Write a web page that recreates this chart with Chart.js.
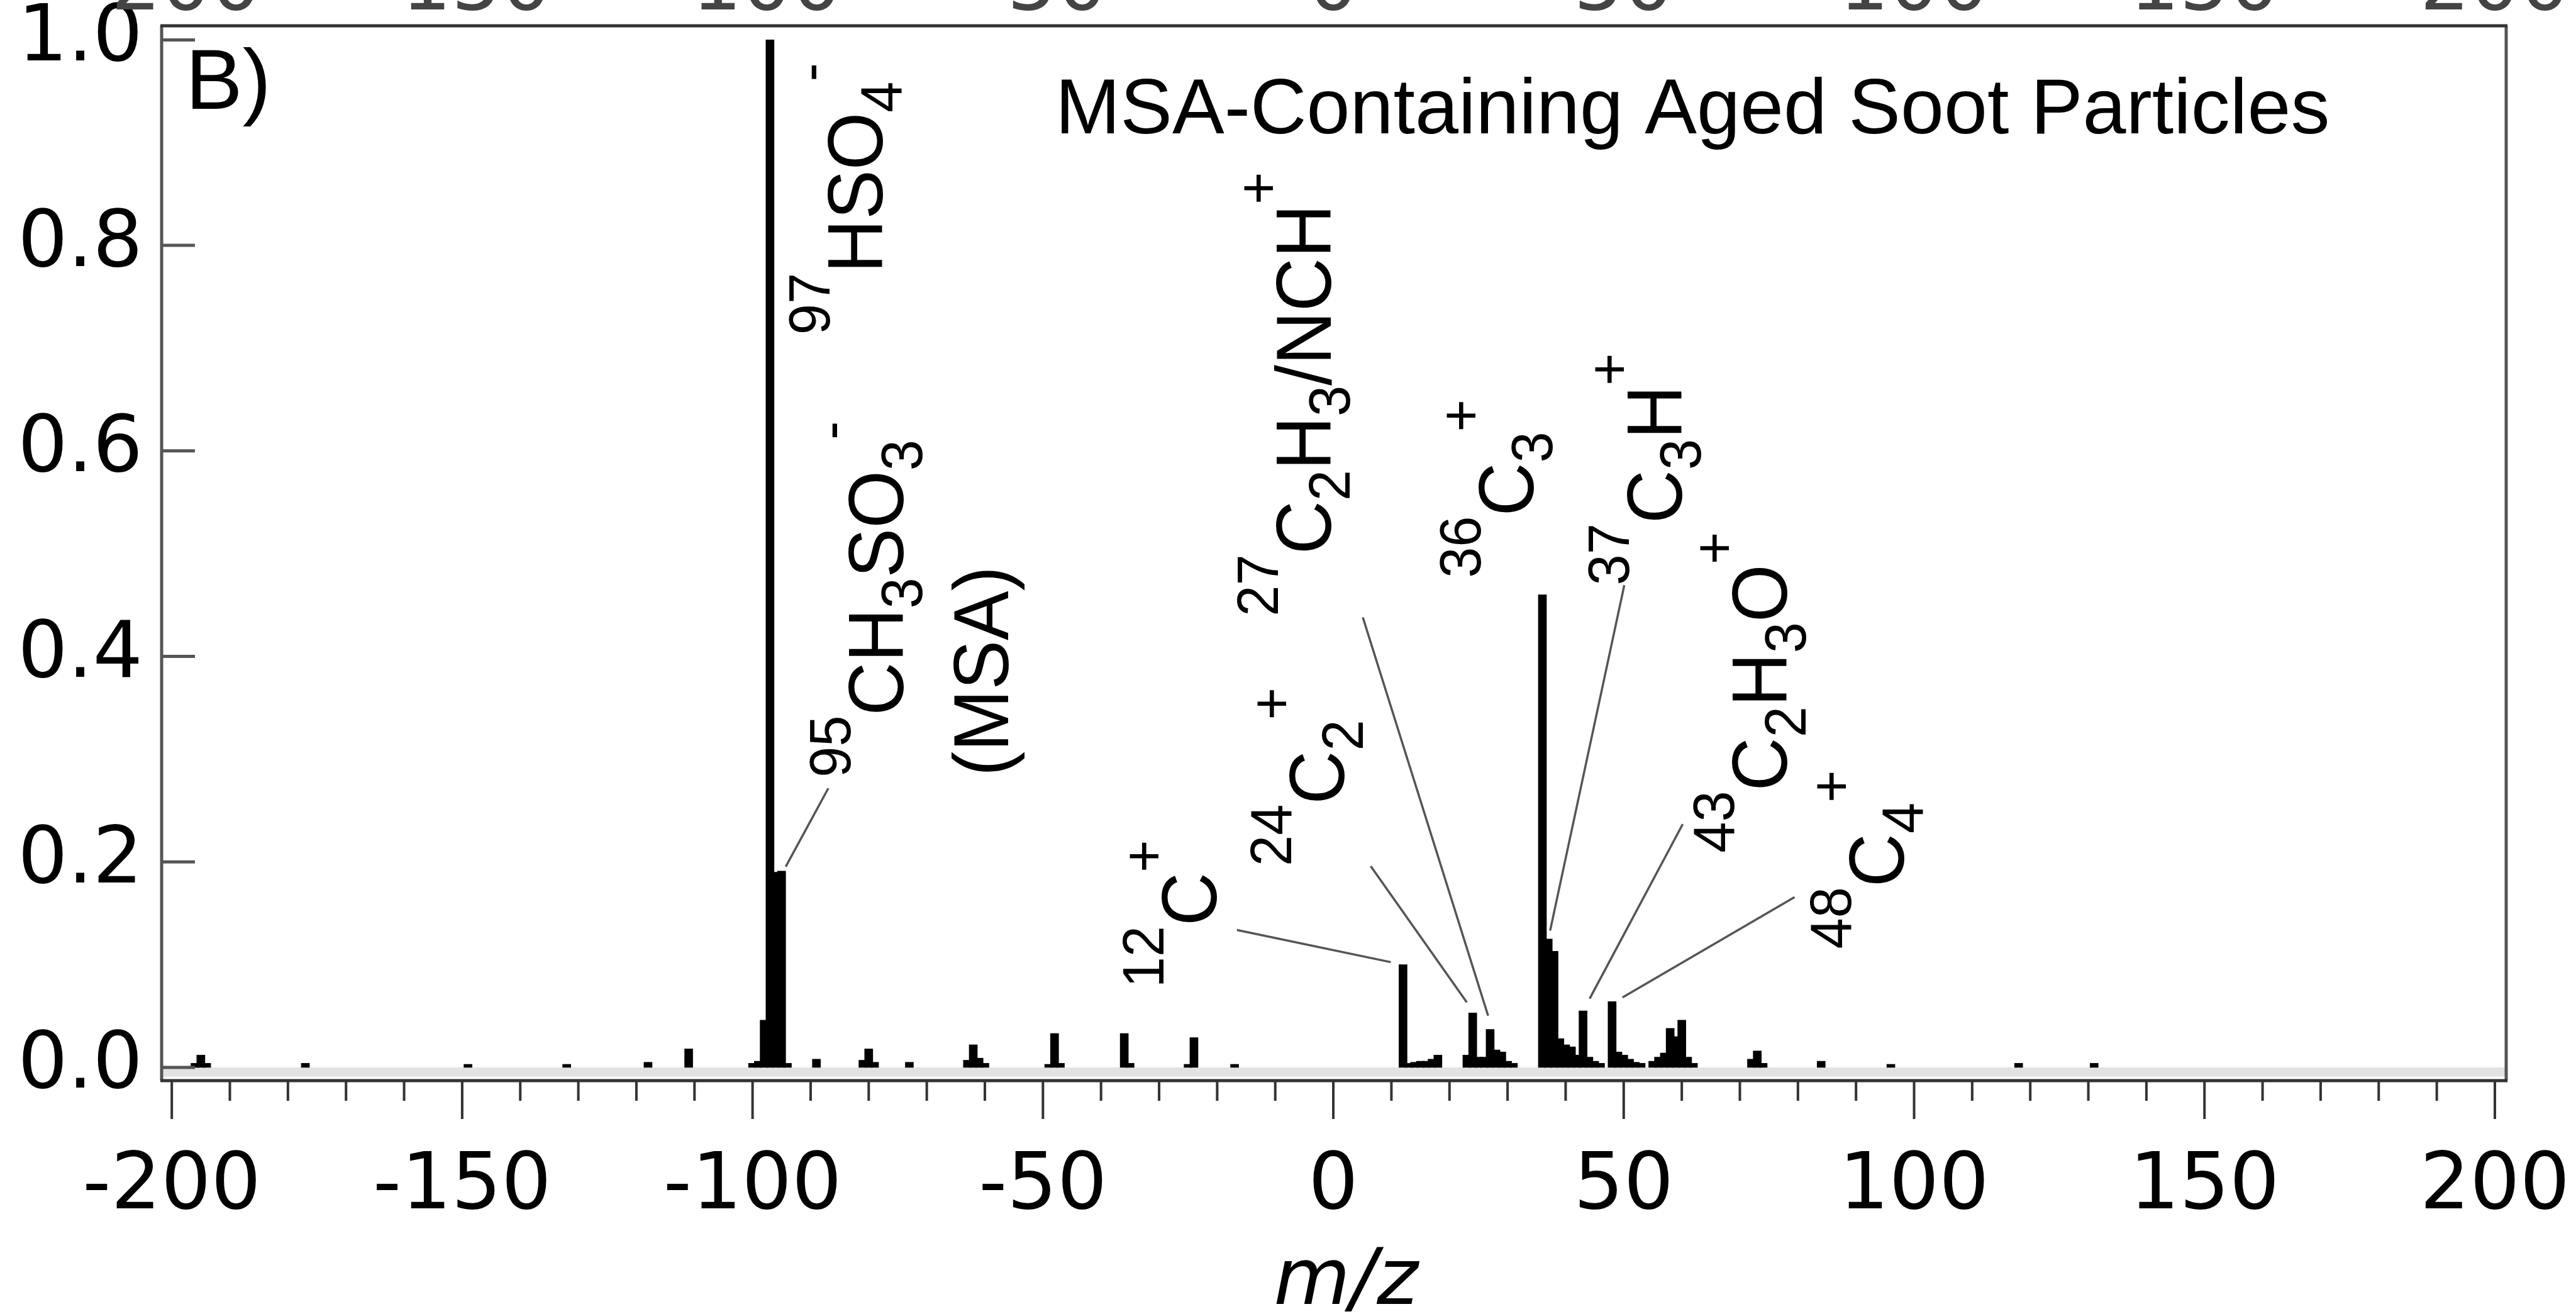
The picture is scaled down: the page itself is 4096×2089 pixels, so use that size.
<!DOCTYPE html>
<html>
<head>
<meta charset="utf-8">
<title>MSA-Containing Aged Soot Particles</title>
<script src="https://cdn.jsdelivr.net/npm/chart.js@4.4.1/dist/chart.umd.min.js"></script>
<style>
  html, body { margin: 0; padding: 0; background: #fff; }
  #wrap { width: 4096px; height: 2089px; }
</style>
</head>
<body>
<div id="wrap"><canvas id="spectrum" width="4096" height="2089"></canvas></div>
<script>
// ================================================
// Spectrum data (m/z, relative intensity)
// ================================================
const mz = [
    -196, -195, -194, -177, -149, -132, -118, -111,
    -100, -99, -98, -97, -96, -95, -94,
    -89, -81, -80, -79, -73, -63, -62, -61, -60,
    -49, -48, -47, -36, -35, -25, -24, -17,
    12, 13, 14, 15, 16, 17, 18,
    23, 24, 25, 26, 27, 28, 29, 30, 31,
    36, 37, 38, 39, 40, 41, 42, 43, 44, 45, 46,
    48, 49, 50, 51, 52, 53, 55, 56, 57, 58, 59, 60, 61, 62,
    72, 73, 74, 84, 96, 118, 131
];
const intensity = [
    0.004, 0.012, 0.004, 0.004, 0.003, 0.003, 0.005, 0.018,
    0.004, 0.006, 0.046, 1.0, 0.19, 0.191, 0.004,
    0.008, 0.007, 0.018, 0.005, 0.005, 0.007, 0.022, 0.009, 0.004,
    0.003, 0.033, 0.004, 0.033, 0.004, 0.003, 0.029, 0.003,
    0.100, 0.004, 0.005, 0.006, 0.006, 0.008, 0.012,
    0.012, 0.053, 0.010, 0.010, 0.037, 0.017, 0.015, 0.006, 0.004,
    0.460, 0.125, 0.113, 0.028, 0.022, 0.020, 0.012, 0.055, 0.010, 0.006, 0.004,
    0.064, 0.015, 0.012, 0.008, 0.005, 0.004, 0.006, 0.010, 0.014, 0.038, 0.030, 0.046, 0.010, 0.004,
    0.008, 0.016, 0.004, 0.006, 0.003, 0.004, 0.004
];

// Axes
const xMin = -201.75, xMax = 201.95;
const yMin = -0.0129, yMax = 1.0137;
const xMajor = [-200, -150, -100, -50, 0, 50, 100, 150, 200];
const xMinorStep = 10;
const yMajor = [0, 0.2, 0.4, 0.6, 0.8, 1.0];
const yTickLabels = ['0.0', '0.2', '0.4', '0.6', '0.8', '1.0'];
const baselineDepth = -0.009; // grey noise band just under zero

// Peak labels: "^" = superscript, "_" = subscript, anchored at (m/z, intensity)
const peakLabels = [
    '^97|HSO|_4|^-',
    '^95|CH|_3|SO|_3|^-',
    '(MSA)',
    '^12|C|^+',
    '^24|C|_2|^+',
    '^27|C|_2|H|_3|/NCH|^+',
    '^36|C|_3|^+',
    '^37|C|_3|H|^+',
    '^43|C|_2|H|_3|O|^+',
    '^48|C|_4|^+'
];
const labelMz = [-77.64, -74.08, -55.97, -20.16, 1.83, -0.47, 34.4, 59.95, 78.06, 98.17];
const labelY  = [0.7130, 0.2822, 0.2834, 0.0775, 0.1959, 0.4391, 0.4763, 0.4692, 0.2089, 0.1154];

// Leader lines from label to peak
const leaderFromMz = [-86.96, -16.6, 6.44, 5.08, 50.1, 60.16, 79.42];
const leaderFromY  = [0.2716, 0.1337, 0.1959, 0.4379, 0.4692, 0.2367, 0.1657];
const leaderToMz   = [-94.29, 9.89, 22.98, 26.65, 37.33, 44.14, 49.79];
const leaderToY    = [0.1953, 0.1024, 0.0633, 0.0503, 0.1331, 0.0669, 0.068];

const titleText = 'MSA-Containing Aged Soot Particles';
const panelText = 'B)';
const xTitle = 'm/z';

// ================================================
// Drawing helpers
// ================================================
const MAIN = 124, SMALL = 93, SUP = 84, SUB = 30, SQUEEZE = 0.95;
const SANS = '"Liberation Sans", Arial, sans-serif';
const TICKFONT = '"DejaVu Sans", Verdana, sans-serif';

// rotated (reading upwards) chemical label
function drawFormula(ctx, spec, x, y) {
    ctx.save();
    ctx.translate(x, y);
    ctx.rotate(-Math.PI / 2);
    ctx.scale(SQUEEZE, 1);
    ctx.textAlign = 'left';
    ctx.textBaseline = 'alphabetic';
    ctx.fillStyle = '#000';
    let pos = 0;
    spec.split('|').forEach(part => {
        let txt = part, size = MAIN, dy = 0;
        if (part[0] === '^') { txt = part.slice(1); size = SMALL; dy = -SUP; }
        else if (part[0] === '_') { txt = part.slice(1); size = SMALL; dy = SUB; }
        ctx.font = size + 'px ' + SANS;
        ctx.fillText(txt, pos, dy);
        pos += ctx.measureText(txt).width;
    });
    ctx.restore();
}

// keep the plot box where the reference has it
function noAutoPad(s) {
    s.paddingLeft = 0; s.paddingRight = 0;
    s.paddingTop = 0; s.paddingBottom = 0;
}

const notesPlugin = {
    id: 'notes',
    afterDatasetsDraw(chart) {
        const ctx = chart.ctx;
        const area = chart.chartArea;
        const xs = chart.scales.x, ys = chart.scales.y;

        ctx.save();

        // frame
        ctx.lineCap = 'butt';
        ctx.strokeStyle = '#555';
        ctx.lineWidth = 5;
        ctx.beginPath();
        ctx.moveTo(area.left, area.top); ctx.lineTo(area.left, area.bottom);
        ctx.moveTo(area.right, area.top); ctx.lineTo(area.right, area.bottom);
        ctx.stroke();
        ctx.strokeStyle = '#333';
        ctx.beginPath();
        ctx.moveTo(area.left - 2, area.top); ctx.lineTo(area.right + 2, area.top);
        ctx.moveTo(area.left - 2, area.bottom); ctx.lineTo(area.right + 2, area.bottom);
        ctx.stroke();

        // y ticks, inward
        ctx.strokeStyle = '#555';
        ctx.lineWidth = 5;
        ctx.beginPath();
        yMajor.forEach(v => {
            const py = ys.getPixelForValue(v);
            ctx.moveTo(area.left, py);
            ctx.lineTo(area.left + 53, py);
        });
        ctx.stroke();

        // x ticks, outward (major every 50, minor every 10)
        ctx.strokeStyle = '#333';
        ctx.lineWidth = 4;
        ctx.beginPath();
        for (let v = xMajor[0]; v <= xMajor[xMajor.length - 1]; v += xMinorStep) {
            const px = xs.getPixelForValue(v);
            const len = xMajor.includes(v) ? 61 : 32;
            ctx.moveTo(px, area.bottom);
            ctx.lineTo(px, area.bottom + len);
        }
        ctx.stroke();

        // leader lines
        ctx.strokeStyle = '#555';
        ctx.lineWidth = 3.5;
        ctx.beginPath();
        leaderFromMz.forEach((m, i) => {
            ctx.moveTo(xs.getPixelForValue(m), ys.getPixelForValue(leaderFromY[i]));
            ctx.lineTo(xs.getPixelForValue(leaderToMz[i]), ys.getPixelForValue(leaderToY[i]));
        });
        ctx.stroke();

        // peak labels
        peakLabels.forEach((spec, i) => {
            drawFormula(ctx, spec, xs.getPixelForValue(labelMz[i]), ys.getPixelForValue(labelY[i]));
        });

        // title and panel letter
        ctx.fillStyle = '#000';
        ctx.textBaseline = 'alphabetic';
        ctx.textAlign = 'left';
        ctx.font = MAIN + 'px ' + SANS;
        ctx.fillText(titleText, 1678, 212);
        ctx.font = '136px ' + SANS;
        ctx.fillText(panelText, 295, 173);

        // x axis title
        ctx.textAlign = 'center';
        ctx.font = 'italic 125px ' + TICKFONT;
        ctx.fillText(xTitle, 2140, 2073);

        // tick labels of the panel above, cut by the top edge
        ctx.fillStyle = '#444';
        ctx.font = '125px ' + TICKFONT;
        xMajor.forEach(v => ctx.fillText(String(v), xs.getPixelForValue(v), 15));

        ctx.restore();
    }
};

// ================================================
// Chart
// ================================================
const peaks = mz.map((m, i) => ({ x: m, y: intensity[i] }));
const band = [{ x: xMin, y: baselineDepth }, { x: xMax, y: baselineDepth }];

new Chart(document.getElementById('spectrum'), {
    type: 'bar',
    data: {
        datasets: [
            {
                type: 'bar',
                data: peaks,
                backgroundColor: '#000',
                borderWidth: 0,
                barThickness: 13,
                grouped: false,
                order: 1
            },
            {
                type: 'line',
                data: band,
                backgroundColor: '#e2e2e2',
                borderWidth: 0,
                pointRadius: 0,
                fill: 'origin',
                order: 2
            }
        ]
    },
    options: {
        responsive: false,
        animation: false,
        layout: {
            autoPadding: false,
            padding: { left: 0, right: 111, top: 41, bottom: 0 }
        },
        plugins: {
            legend: { display: false },
            tooltip: { enabled: false },
            title: { display: false }
        },
        scales: {
            x: {
                type: 'linear',
                min: xMin,
                max: xMax,
                offset: false,
                grid: { display: false, drawTicks: false, offset: false },
                border: { display: false },
                afterFit: s => { s.height = 371; noAutoPad(s); },
                afterBuildTicks: s => { s.ticks = xMajor.map(v => ({ value: v })); },
                ticks: {
                    padding: 96,
                    autoSkip: false,
                    maxRotation: 0,
                    color: '#000',
                    font: { family: 'DejaVu Sans', size: 125 },
                    callback: v => String(v)
                }
            },
            y: {
                type: 'linear',
                min: yMin,
                max: yMax,
                grid: { display: false, drawTicks: false },
                border: { display: false },
                afterFit: s => { s.width = 257; noAutoPad(s); },
                afterBuildTicks: s => { s.ticks = yMajor.map(v => ({ value: v })); },
                ticks: {
                    padding: 30,
                    color: '#000',
                    font: { family: 'DejaVu Sans', size: 125 },
                    callback: (v, i) => yTickLabels[i]
                }
            }
        }
    },
    plugins: [notesPlugin]
});
</script>
</body>
</html>
